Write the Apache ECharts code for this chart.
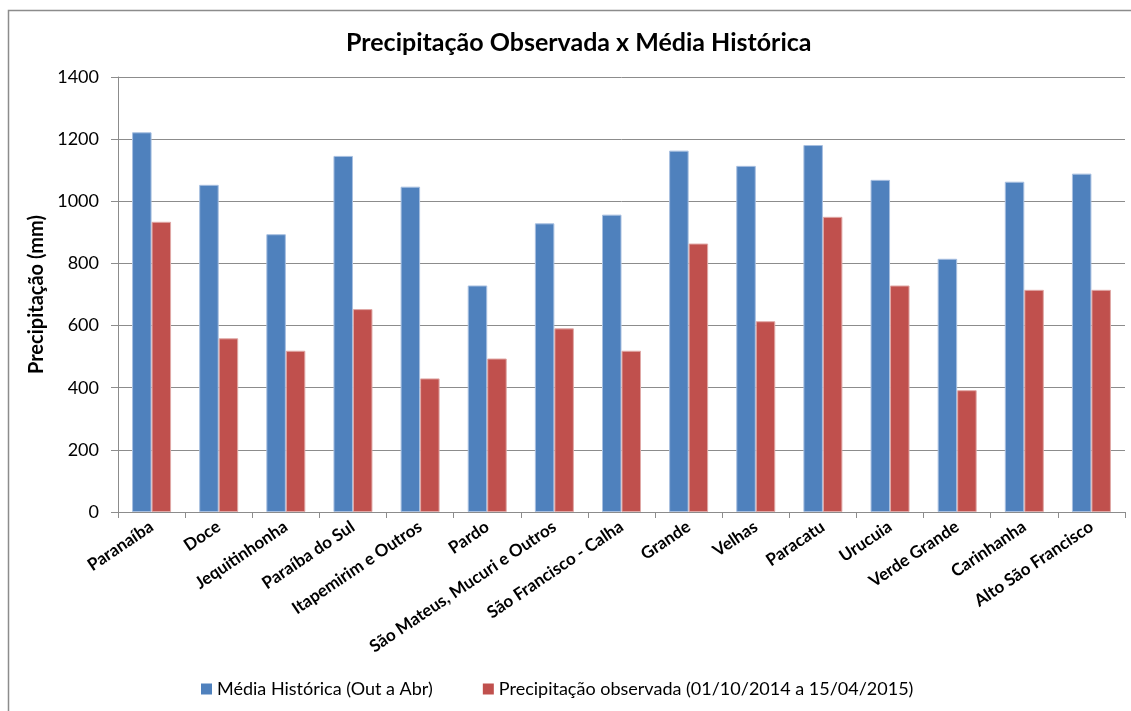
<!DOCTYPE html>
<html><head><meta charset="utf-8">
<script src="https://cdn.jsdelivr.net/npm/echarts@6/dist/echarts.min.js"></script>
<style>html,body{margin:0;padding:0;background:#fff}#c{width:1131px;height:711px}</style>
</head><body><div id="c"></div>
<script>
const categories = ["Paranaíba","Doce","Jequitinhonha","Paraíba do Sul","Itapemirim e Outros","Pardo","São Mateus, Mucuri e Outros","São Francisco - Calha","Grande","Velhas","Paracatu","Urucuia","Verde Grande","Carinhanha","Alto São Francisco"];
const mediaHistorica = [1222,1053,894,1146,1047,729,929,957,1163,1114,1181,1069,815,1063,1089];
const precipObservada = [934,559,519,653,430,494,591,519,864,614,950,729,392,715,715];
const seriesNames = ["Média Histórica (Out a Abr)","Precipitação observada (01/10/2014 a 15/04/2015)"];
const yTicks = {min:0, max:1400, interval:200};
const FONT = "Lato";

const chart = echarts.init(document.getElementById('c'), null, {renderer:'canvas'});
chart.setOption({
  animation:false,
  backgroundColor:'#fff',
  textStyle:{fontFamily:FONT},
  title:{text:'Precipitação Observada x Média Histórica', left:341, top:25,
    textStyle:{fontFamily:FONT, fontWeight:'bold', fontSize:25, color:'#000'}},
  graphic:[{type:'rect', shape:{x:8.5,y:10.5,width:1140,height:720}, style:{fill:'none', stroke:'#8c8c8c', lineWidth:1.5}, silent:true}],
  legend:{bottom:8, left:196, itemWidth:11, itemHeight:11, itemGap:50, itemStyle:{borderWidth:0}, icon:'rect',
    textStyle:{fontFamily:FONT, fontSize:18, color:'#000'}, data:seriesNames},
  grid:{left:118, right:6, top:77, bottom:199, containLabel:false},
  xAxis:{type:'category', data:categories,
    axisLine:{lineStyle:{color:'#8c8c8c'}},
    axisTick:{show:true, length:6, lineStyle:{color:'#8c8c8c'}},
    axisLabel:{rotate:34, interval:0, margin:13, fontFamily:FONT, fontWeight:'bold', fontSize:17, color:'#000'}},
  yAxis:{type:'value', min:yTicks.min, max:yTicks.max, interval:yTicks.interval,
    name:'Precipitação (mm)', nameLocation:'middle', nameGap:69,
    nameTextStyle:{fontFamily:FONT, fontWeight:'bold', fontSize:20, color:'#000'},
    axisLine:{show:true, lineStyle:{color:'#8c8c8c'}},
    axisTick:{show:true, length:7, lineStyle:{color:'#8c8c8c'}},
    axisLabel:{fontFamily:FONT, fontSize:18, color:'#000', margin:19, formatter:v=>String(v)},
    splitLine:{lineStyle:{color:'#8c8c8c'}}},
  series:[
    {name:seriesNames[0], type:'bar', data:mediaHistorica, barWidth:19.5, barGap:'0%',
      itemStyle:{color:'#4F81BD', borderColor:'#a7bfe0', borderWidth:1}},
    {name:seriesNames[1], type:'bar', data:precipObservada, barWidth:19.5, barGap:'0%',
      itemStyle:{color:'#C0504D', borderColor:'#e0a8a6', borderWidth:1}}
  ]
});
</script></body></html>
